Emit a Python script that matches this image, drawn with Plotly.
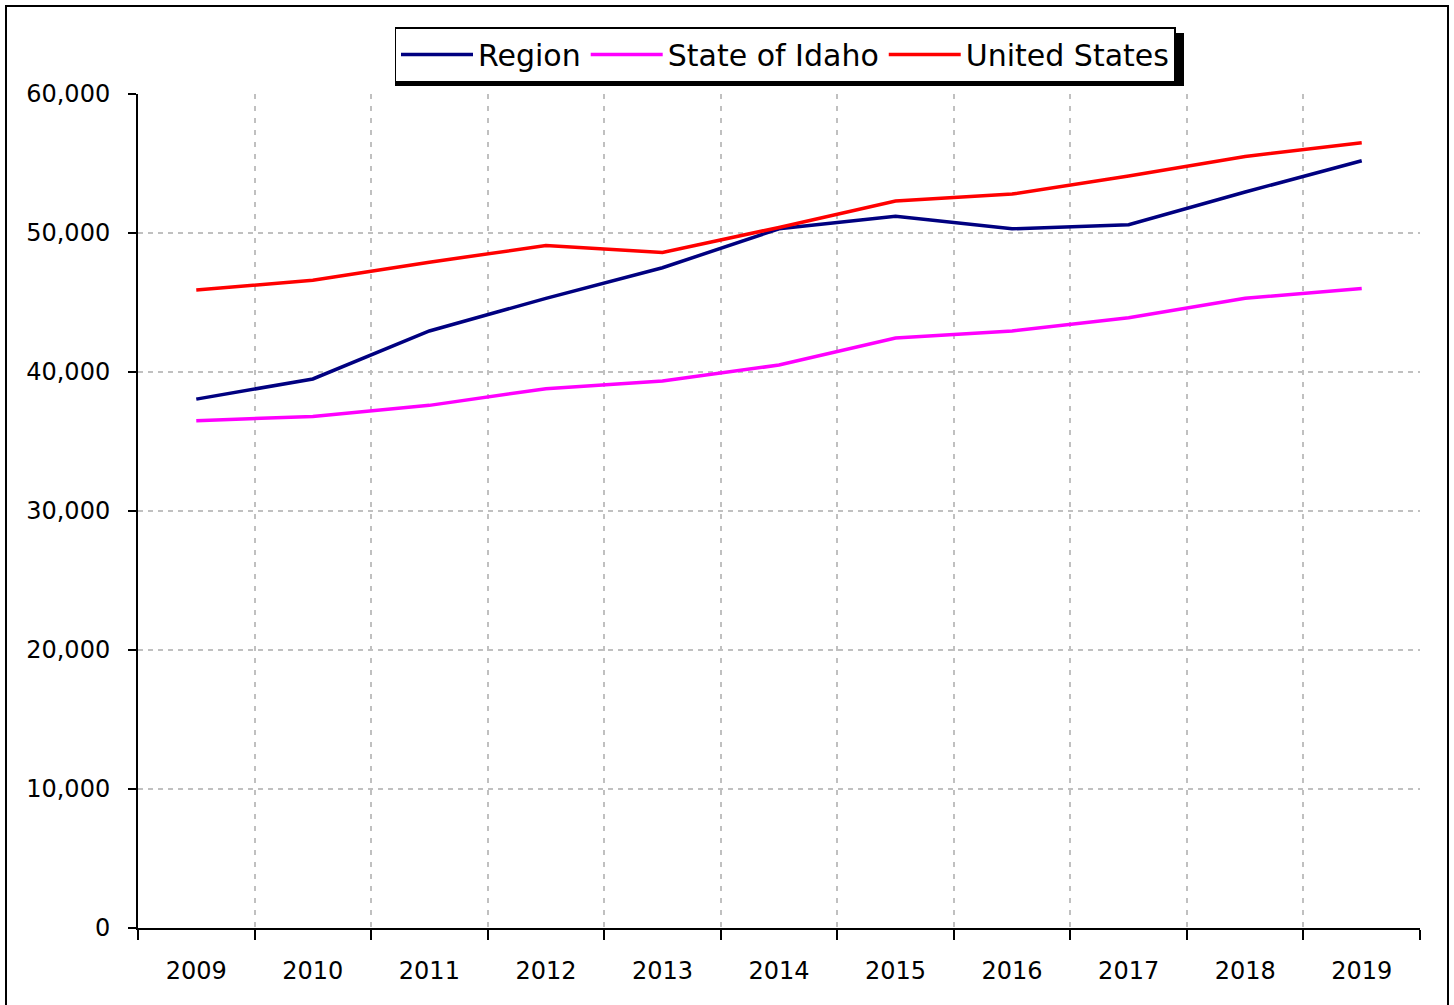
import plotly.graph_objects as go

years = ["2009", "2010", "2011", "2012", "2013", "2014", "2015", "2016", "2017", "2018", "2019"]
region = [38050, 39500, 42950, 45300, 47500, 50300, 51200, 50300, 50600, 52950, 55200]
idaho = [36500, 36800, 37600, 38800, 39350, 40500, 42450, 42950, 43900, 45300, 46000]
usa = [45900, 46600, 47900, 49100, 48600, 50400, 52300, 52800, 54100, 55500, 56500]

series_names = ["Region", "State of Idaho", "United States"]
series_colors = ["#000080", "#FF00FF", "#FF0000"]
yticks = [0, 10000, 20000, 30000, 40000, 50000, 60000]

W, H = 1454, 1005
L, R, T, B = 138, 34, 94, 77
pw, ph = W - L - R, H - T - B

def px_x(p):
    return (p - L) / pw

def px_y(p):
    return (H - B - p) / ph

fig = go.Figure()
for name, vals, col in zip(series_names, [region, idaho, usa], series_colors):
    fig.add_trace(go.Scatter(x=years, y=vals, name=name, mode="lines",
                             line=dict(color=col, width=3.5)))

font_family = "DejaVu Sans"

fig.update_layout(
    width=W, height=H,
    margin=dict(l=L, r=R, t=T, b=B),
    paper_bgcolor="white", plot_bgcolor="white",
    font=dict(family=font_family, size=24, color="black"),
    showlegend=True,
    legend=dict(
        orientation="h", x=px_x(785), xanchor="center", y=px_y(27), yanchor="top",
        bgcolor="white", bordercolor="black", borderwidth=1.5,
        font=dict(family=font_family, size=30, color="black"),
        itemwidth=72, tracegroupgap=0,
    ),
    xaxis=dict(
        type="category", range=[-0.5, 10.5], tickson="boundaries",
        showline=True, linecolor="black", linewidth=2,
        ticks="outside", ticklen=10, tickwidth=2, tickcolor="black",
        showgrid=True, gridcolor="#c0c0c0", gridwidth=2, griddash="5px,7px",
        ticklabelstandoff=20, tickfont=dict(size=24),
        zeroline=False,
    ),
    yaxis=dict(
        range=[0, 60000], tickvals=yticks, tickformat=",",
        showline=True, linecolor="black", linewidth=2,
        ticks="outside", ticklen=8, tickwidth=2, tickcolor="black",
        showgrid=True, gridcolor="#c0c0c0", gridwidth=2, griddash="5px,5px",
        ticklabelstandoff=13, tickfont=dict(size=24),
        zeroline=False,
    ),
    shapes=[
        dict(type="rect", xref="paper", yref="paper",
             x0=px_x(6), x1=px_x(1448), y0=px_y(1012), y1=px_y(6),
             line=dict(color="black", width=2), fillcolor="rgba(0,0,0,0)", layer="above"),
        dict(type="rect", xref="paper", yref="paper",
             x0=px_x(395), x1=px_x(1184), y0=px_y(86), y1=px_y(33),
             line=dict(color="black", width=0), fillcolor="black", layer="above"),
    ],
)

fig.write_html("out.html", config={"displayModeBar": False},
               post_script="document.body.style.margin='0px';")
